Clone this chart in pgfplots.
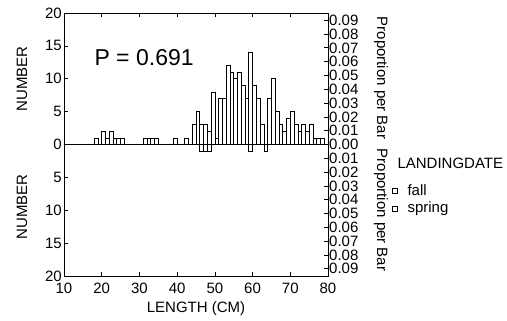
\documentclass[border=0pt]{standalone}
\usepackage{pgfplots}
\pgfplotsset{compat=1.18}
\usepackage{fontspec}
\setmainfont{Liberation Sans}
\begin{document}
\begin{tikzpicture}[x=1pt,y=1pt]
\begin{axis}[
  at={(64pt,45pt)}, anchor=south west,
  scale only axis, width=264pt, height=263pt,
  xmin=10, xmax=80, ymin=-20, ymax=20,
  xtick={10,20,...,80},
  ytick={-20,-15,...,20},
  yticklabels={20,15,10,5,0,5,10,15,20},
  tick align=inside,
  major tick length=4pt,
  xtick pos=both, xticklabel pos=bottom,
  ytick pos=left,
  tick style={black, line width=0.7pt},
  tick label style={font=\fontsize{15}{15}\selectfont},
  xticklabel style={yshift=-3pt},
  yticklabel style={inner sep=2pt},
  /pgf/number format/assume math mode=true,
  axis line style={line width=0.9pt},
  clip=false,
]
% zero line
\addplot[black, line width=0.8pt] coordinates {(10,0) (80,0)};
% fall (upward)
\addplot[ybar, bar width=1, bar shift=0pt, draw=black, fill=white, line width=0.6pt]
 coordinates {
 (18.5,1) (20.5,2) (21.5,1) (22.5,2) (23.5,1) (24.5,1) (25.5,1)
 (31.5,1) (32.5,1) (33.5,1) (34.5,1)
 (39.5,1) (42.5,1)
 (44.5,3) (45.5,5) (46.5,3) (47.5,3) (48.5,2) (49.5,8) (50.5,1) (51.5,7)
 (52.5,7) (53.5,12) (54.5,11) (55.5,10) (56.5,11) (57.5,9) (58.5,7) (59.5,14)
 (60.5,9) (61.5,7) (62.5,3) (64.5,7) (65.5,10) (66.5,5) (67.5,3) (68.5,2)
 (69.5,4) (70.5,5) (71.5,3) (72.5,2) (73.5,3) (74.5,2) (75.5,3) (76.5,1)
 (77.5,1) (78.5,1)
 };
% spring (downward)
\addplot[ybar, bar width=1, bar shift=0pt, draw=black, fill=white, line width=0.6pt]
 coordinates {(46.5,-1) (47.5,-1) (48.5,-1) (59.5,-1) (63.5,-1)};
\end{axis}
\begin{axis}[
  at={(64pt,45pt)}, anchor=south west,
  scale only axis, width=264pt, height=263pt,
  xmin=10, xmax=80, ymin=-20, ymax=20,
  axis x line=none, axis y line*=right,
  ytick={-18.9,-16.8,-14.7,-12.6,-10.5,-8.4,-6.3,-4.2,-2.1,0,2.1,4.2,6.3,8.4,10.5,12.6,14.7,16.8,18.9},
  yticklabels={0.09,0.08,0.07,0.06,0.05,0.04,0.03,0.02,0.01,0.00,0.01,0.02,0.03,0.04,0.05,0.06,0.07,0.08,0.09},
  tick align=inside,
  major tick length=4pt,
  tick style={black, line width=0.7pt},
  yticklabel style={font=\fontsize{15}{15}\selectfont, inner sep=1pt},
  axis line style={line width=0.9pt},
]
\end{axis}
% labels
\node[rotate=90, font=\fontsize{15}{15}\selectfont] at (22,242) {NUMBER};
\node[rotate=90, font=\fontsize{15}{15}\selectfont] at (22,114) {NUMBER};
\node[font=\fontsize{15}{15}\selectfont] at (196,12) {LENGTH (CM)};
\node[rotate=-90, font=\fontsize{15}{15}\selectfont] at (381,243) {Proportion per Bar};
\node[rotate=-90, font=\fontsize{15}{15}\selectfont] at (381,111) {Proportion per Bar};
\node[anchor=west, font=\fontsize{23}{23}\selectfont] at (91,263) {P = 0.691};
\node[anchor=west, font=\fontsize{15}{15}\selectfont] at (394,158) {LANDINGDATE};
\draw[line width=0.5pt] (392,128) rectangle (397,133);
\node[anchor=west, font=\fontsize{15}{15}\selectfont] at (404,130.5) {fall};
\draw[line width=0.5pt] (392,110) rectangle (397,115);
\node[anchor=west, font=\fontsize{15}{15}\selectfont] at (404,112.5) {spring};
\pgfresetboundingbox
\path[use as bounding box] (0,0) rectangle (507,321);
\end{tikzpicture}
\end{document}
